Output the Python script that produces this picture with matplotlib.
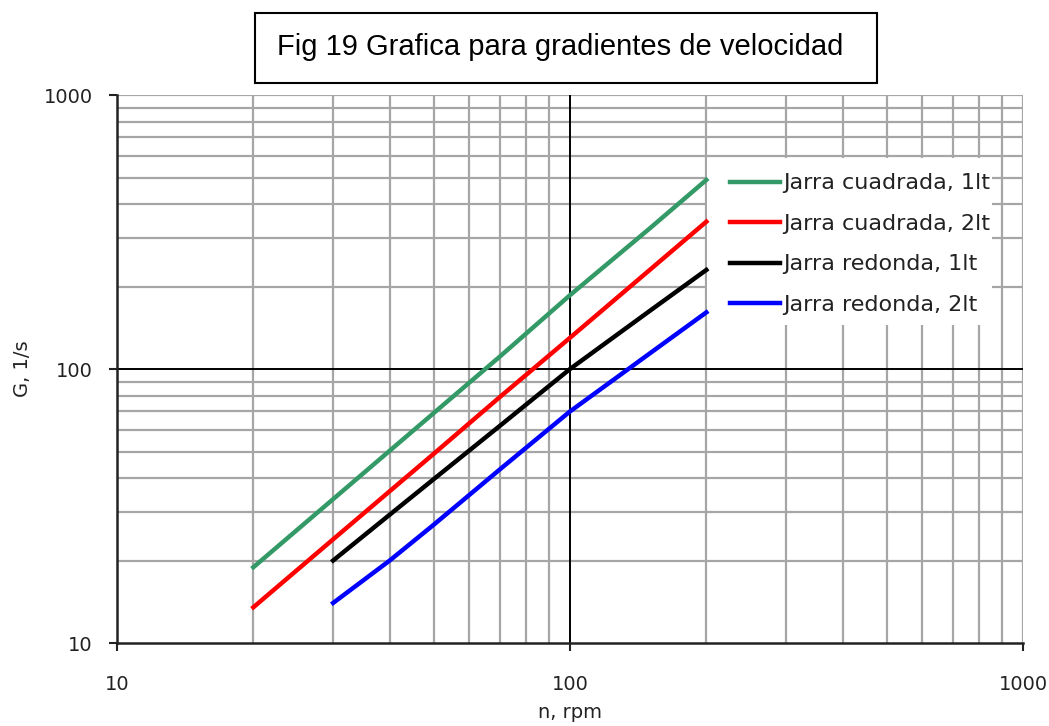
import matplotlib
matplotlib.use('Agg')
import matplotlib.pyplot as plt
from matplotlib.patches import Rectangle
from matplotlib.ticker import FixedLocator, FixedFormatter, NullFormatter

# rpm vs velocity gradient for each jar
n_20 = [20, 30, 50, 70, 100, 150, 200]
n_30 = [30, 40, 50, 70, 100, 150, 200]
g_cuad_1lt = [18.9, 33.5, 69, 111, 186, 326, 490]
g_cuad_2lt = [13.5, 23.9, 49, 79, 130, 230, 345]
g_red_1lt = [20, 29.4, 39.6, 62, 100, 163, 230]
g_red_2lt = [14, 20, 27, 43, 70, 114, 161]

labels = ['Jarra cuadrada, 1lt', 'Jarra cuadrada, 2lt',
          'Jarra redonda, 1lt', 'Jarra redonda, 2lt']
colors = ['#339966', '#ff0000', '#000000', '#0000ff']

major = [10, 100, 1000]
minor = [m * d for d in (10, 100) for m in range(2, 10)]

fig = plt.figure(figsize=(10.49, 7.26), dpi=100)
ax = fig.add_axes([0.1115, 0.1143, 0.8637, 0.7548])
ax.set_xscale('log')
ax.set_yscale('log')
ax.set_xlim(10, 1000)
ax.set_ylim(10, 1000)

grid_c = '#a6a6a6'
for v in minor + [1000]:
    ax.axvline(v, color=grid_c, lw=1.6, zorder=1)
    ax.axhline(v, color=grid_c, lw=1.6, zorder=1)
ax.axvline(100, color='black', lw=1.4, zorder=1.5)
ax.axhline(100, color='black', lw=1.4, zorder=1.5)

ax.plot(n_20, g_cuad_1lt, color=colors[0], lw=3.2, label=labels[0], zorder=3)
ax.plot(n_20, g_cuad_2lt, color=colors[1], lw=3.2, label=labels[1], zorder=3)
ax.plot(n_30, g_red_1lt, color=colors[2], lw=3.2, label=labels[2], zorder=3)
ax.plot(n_30, g_red_2lt, color=colors[3], lw=3.2, label=labels[3], zorder=3)

for a in (ax.xaxis, ax.yaxis):
    a.set_major_locator(FixedLocator(major))
    a.set_major_formatter(FixedFormatter([str(v) for v in major]))
    a.set_minor_locator(FixedLocator(minor))
    a.set_minor_formatter(NullFormatter())
ax.tick_params(which='major', direction='out', length=6, width=1.5,
               color='#222222', labelsize=14, labelcolor='#222222')
ax.tick_params(axis='y', which='major', pad=11.5)
ax.tick_params(axis='x', which='major', pad=17)
ax.tick_params(which='minor', length=0)

ax.spines['top'].set_visible(False)
ax.spines['right'].set_visible(False)
for s in ('left', 'bottom'):
    ax.spines[s].set_linewidth(1.8)
    ax.spines[s].set_color('#222222')
    ax.spines[s].set_zorder(2)

ax.set_xlabel('n, rpm', fontsize=14, color='#222222')
ax.set_ylabel('G, 1/s', fontsize=14, color='#222222')
ax.xaxis.set_label_coords(0.5, -0.109)
ax.yaxis.set_label_coords(-0.094, 0.5)

# white area behind the legend
ax.add_patch(Rectangle((0.651, 0.580), 0.315, 0.305, transform=ax.transAxes,
                       facecolor='white', edgecolor='none', zorder=2))
leg = ax.legend(loc='upper left', bbox_to_anchor=(0.6766, 0.857),
                fontsize=16, frameon=False, handlelength=2.25,
                handletextpad=0.14, labelspacing=0.92, borderpad=0,
                borderaxespad=0)
leg.set_zorder(4)
for t in leg.get_texts():
    t.set_color('#222222')

# title box
fig.add_artist(Rectangle((0.2431, 0.8857), 0.5930, 0.0964, transform=fig.transFigure,
                         facecolor='white', edgecolor='black', lw=1.5))
fig.text(0.5340, 0.9352, 'Fig 19 Grafica para gradientes de velocidad',
         ha='center', va='center', fontsize=21, family='Liberation Sans')

fig.savefig('out.png', dpi=100)
